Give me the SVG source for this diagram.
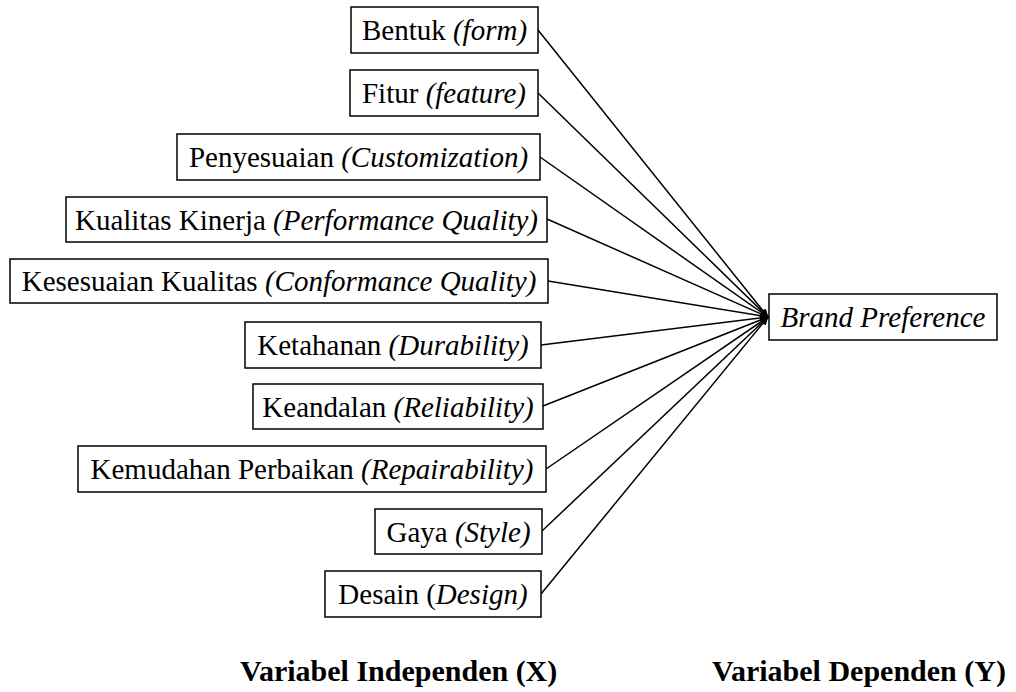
<svg xmlns="http://www.w3.org/2000/svg" width="1016" height="692" viewBox="0 0 1016 692">
<style>
.box{fill:#fff;stroke:#000;stroke-width:1.5}
text{font-family:'Liberation Serif',Tinos,'Times New Roman',Times,'DejaVu Serif',serif;fill:#000}
.t{font-size:29px;text-anchor:middle}
.i{font-style:italic}
.b{font-size:30px;font-weight:bold}
.c{stroke:#000;stroke-width:1.5;fill:none;marker-end:url(#ah)}
</style>
<defs>
<marker id="ah" markerWidth="10" markerHeight="10" refX="8" refY="5" orient="auto" markerUnits="userSpaceOnUse">
<path d="M0,1.5 L9,5 L0,8.5 Z" fill="#000"/>
</marker>
</defs>
<g id="connectors">
<line class="c" x1="538" y1="30" x2="768" y2="317"/>
<line class="c" x1="538" y1="93" x2="768" y2="317"/>
<line class="c" x1="540" y1="157" x2="768" y2="317"/>
<line class="c" x1="547" y1="219" x2="768" y2="317"/>
<line class="c" x1="548" y1="281" x2="768" y2="317"/>
<line class="c" x1="541" y1="345" x2="768" y2="317"/>
<line class="c" x1="543" y1="406" x2="768" y2="317"/>
<line class="c" x1="546" y1="469" x2="768" y2="317"/>
<line class="c" x1="542" y1="531" x2="768" y2="317"/>
<line class="c" x1="541" y1="594" x2="768" y2="317"/>
</g>
<g id="n1"><rect class="box" x="351" y="7" width="187" height="46"/><text class="t" x="444.5" y="40">Bentuk <tspan class="i">(form)</tspan></text></g>
<g id="n2"><rect class="box" x="350" y="70" width="188" height="46"/><text class="t" x="444" y="103">Fitur <tspan class="i">(feature)</tspan></text></g>
<g id="n3"><rect class="box" x="177" y="134" width="363" height="46"/><text class="t" x="358.5" y="167">Penyesuaian <tspan class="i">(Customization)</tspan></text></g>
<g id="n4"><rect class="box" x="66" y="197" width="481" height="45"/><text class="t" x="306.5" y="229.5">Kualitas Kinerja <tspan class="i">(Performance Quality)</tspan></text></g>
<g id="n5"><rect class="box" x="10" y="259" width="538" height="44"/><text class="t" x="279" y="291">Kesesuaian Kualitas <tspan class="i">(Conformance Quality)</tspan></text></g>
<g id="n6"><rect class="box" x="245" y="322" width="296" height="46"/><text class="t" x="393" y="355">Ketahanan <tspan class="i">(Durability)</tspan></text></g>
<g id="n7"><rect class="box" x="253" y="384" width="290" height="45"/><text class="t" x="398" y="416.5">Keandalan <tspan class="i">(Reliability)</tspan></text></g>
<g id="n8"><rect class="box" x="78" y="446" width="468" height="46"/><text class="t" x="312" y="479">Kemudahan Perbaikan <tspan class="i">(Repairability)</tspan></text></g>
<g id="n9"><rect class="box" x="375" y="509" width="167" height="45"/><text class="t" x="458.5" y="541.5">Gaya <tspan class="i">(Style)</tspan></text></g>
<g id="n10"><rect class="box" x="325" y="571" width="216" height="46"/><text class="t" x="433" y="604">Desain (<tspan class="i">Design)</tspan></text></g>
<g id="y"><rect class="box" x="769" y="294" width="228" height="46"/><text class="t i" x="883" y="327">Brand Preference</text></g>
<g id="labels">
<text class="b" x="240" y="681">Variabel Independen (X)</text>
<text class="b" x="712" y="681">Variabel Dependen (Y)</text>
</g>
</svg>
